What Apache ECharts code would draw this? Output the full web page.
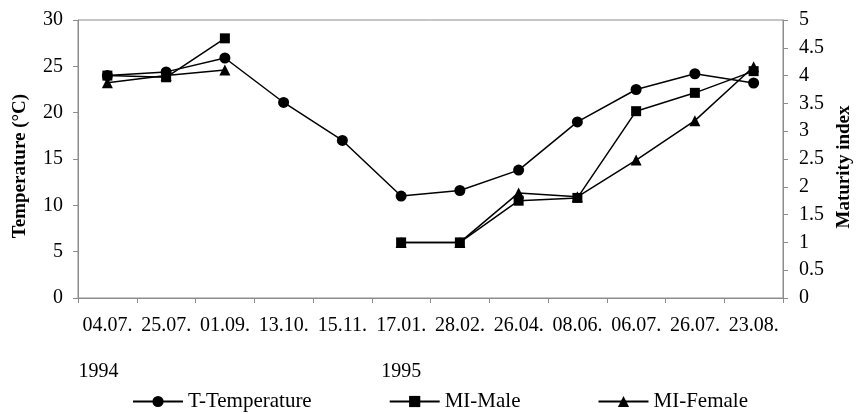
<!DOCTYPE html>
<html><head><meta charset="utf-8">
<script src="https://cdn.jsdelivr.net/npm/echarts@6/dist/echarts.min.js"></script>
<style>html,body{margin:0;padding:0;background:#fff}#c{width:856px;height:414px}</style>
</head><body><div id="c"></div>
<script>
const categories = ['04.07.', '25.07.', '01.09.', '13.10.', '15.11.', '17.01.', '28.02.', '26.04.', '08.06.', '06.07.', '26.07.', '23.08.'];
const temperature = [24.0, 24.4, 25.9, 21.1, 17.0, 11.0, 11.6, 13.8, 19.0, 22.5, 24.2, 23.2];
const miMale = [4.0, 3.97, 4.67, null, null, 1.0, 1.0, 1.75, 1.8, 3.36, 3.69, 4.08];
const miFemale = [3.87, 4.0, 4.1, null, null, 1.0, 1.0, 1.89, 1.82, 2.48, 3.19, 4.16];
const years = [{text: '1994', index: 0}, {text: '1995', index: 5}];
const leftTicks = {min: 0, max: 30, interval: 5};
const rightTicks = {min: 0, max: 5, interval: 0.5};

const FONT = 'Liberation Serif';
const FS = 20;
const axisGray = '#8c8c8c';
const chart = echarts.init(document.getElementById('c'));
const lineStyle = {color: '#000', width: 1.5};
chart.setOption({
  animation: false,
  textStyle: {fontFamily: FONT, color: '#000'},
  grid: {left: 78, right: 73, top: 20, bottom: 116, show: true, borderColor: axisGray, borderWidth: 1,
    containLabel: false, outerBoundsMode: 'none'},
  legend: {
    top: 391, left: 132, padding: 0, itemGap: 77, itemWidth: 50, itemHeight: 14,
    textStyle: {fontFamily: FONT, fontSize: 21, color: '#000'},
    data: ['T-Temperature', 'MI-Male', 'MI-Female']
  },
  xAxis: {
    type: 'category', data: categories, boundaryGap: true,
    axisLine: {lineStyle: {color: axisGray}},
    axisTick: {show: true, length: 5, lineStyle: {color: axisGray}},
    axisLabel: {color: '#000', fontFamily: FONT, fontSize: FS, margin: 18, interval: 0}
  },
  yAxis: [{
    type: 'value', min: leftTicks.min, max: leftTicks.max, interval: leftTicks.interval,
    name: 'Temperature (°C)', nameLocation: 'middle', nameGap: 48, nameRotate: 90,
    nameTextStyle: {fontFamily: FONT, fontSize: 19, fontWeight: 'bold', color: '#000', padding: [0, 14, 0, 0]},
    axisLine: {show: true, lineStyle: {color: axisGray}},
    axisTick: {show: true, length: 5, lineStyle: {color: axisGray}},
    splitLine: {show: false},
    axisLabel: {color: '#000', fontFamily: FONT, fontSize: FS, margin: 15}
  }, {
    type: 'value', min: rightTicks.min, max: rightTicks.max, interval: rightTicks.interval,
    name: 'Maturity index', nameLocation: 'middle', nameGap: 50, nameRotate: 90,
    nameTextStyle: {fontFamily: FONT, fontSize: 19, fontWeight: 'bold', color: '#000', padding: [0, 16, 0, 0]},
    position: 'right',
    axisLine: {show: true, lineStyle: {color: axisGray}},
    axisTick: {show: true, length: 5, lineStyle: {color: axisGray}},
    splitLine: {show: false},
    axisLabel: {color: '#000', fontFamily: FONT, fontSize: FS, margin: 16}
  }],
  series: [{
    name: 'T-Temperature', type: 'line', yAxisIndex: 0, data: temperature,
    symbol: 'circle', symbolSize: 11, itemStyle: {color: '#000'}, lineStyle: lineStyle
  }, {
    name: 'MI-Male', type: 'line', yAxisIndex: 1, data: miMale, connectNulls: false,
    symbol: 'rect', symbolSize: 10, itemStyle: {color: '#000'}, lineStyle: lineStyle
  }, {
    name: 'MI-Female', type: 'line', yAxisIndex: 1, data: miFemale, connectNulls: false,
    symbol: 'triangle', symbolSize: 11, itemStyle: {color: '#000'}, lineStyle: lineStyle
  }]
});
const yearOffsets = [-29, -20];
const yearGraphics = years.map((y, i) => {
  const x = chart.convertToPixel({xAxisIndex: 0}, y.index);
  return {type: 'text', left: x + yearOffsets[i], top: 362,
    style: {text: y.text, font: FS + 'px "' + FONT + '"', fill: '#000'}};
});
chart.setOption({graphic: yearGraphics});
</script></body></html>
